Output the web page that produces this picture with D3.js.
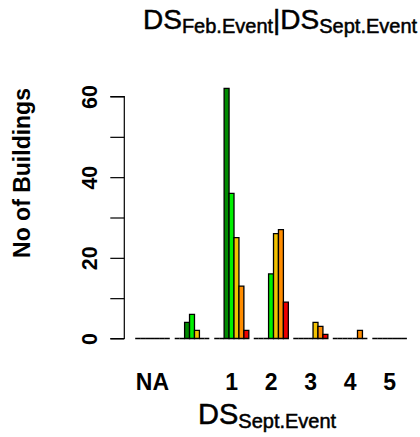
<!DOCTYPE html>
<html>
<head>
<meta charset="utf-8">
<script src="https://cdn.jsdelivr.net/npm/d3@7"></script>
<style>
  html, body { margin: 0; padding: 0; background: #fff; }
  svg { display: block; font-family: "Liberation Sans", Arial, Helvetica, sans-serif; }
</style>
</head>
<body>
<div id="chart"></div>
<script>
// Damage state in the September event (groups along x)
const categories = ["NA", "0", "1", "2", "3", "4", "5"];
const xTickLabels = ["NA", "", "1", "2", "3", "4", "5"];

// Damage state in the February event (bars inside each group)
const seriesNames = ["NA", "0", "1", "2", "3", "4", "5"];
const seriesColors = ["#bebebe", "#ffffff", "#008b00", "#00f000", "#f2c200", "#ff8c00", "#ee0000"];

// Number of buildings per September group, one array per February state
const countsNA = [0, 0, 0, 0, 0, 0, 0];
const counts0  = [0, 0, 0, 0, 0, 0, 0];
const counts1  = [0, 4, 62, 0, 0, 0, 0];
const counts2  = [0, 6, 36, 16, 0, 0, 0];
const counts3  = [0, 2, 25, 26, 4, 0, 0];
const counts4  = [0, 0, 13, 27, 3, 2, 0];
const counts5  = [0, 0, 2, 9, 1, 0, 0];
const seriesValues = [countsNA, counts0, counts1, counts2, counts3, counts4, counts5];

const yTicks = [0, 10, 20, 30, 40, 50, 60];
const yTickLabels = ["0", "", "20", "", "40", "", "60"];

const W = 420, H = 437;
const svg = d3.select("#chart").append("svg")
  .attr("width", W).attr("height", H);

// Each group holds one bar per series plus one empty slot
const nSeries = seriesNames.length;
const slots = categories.length * (nSeries + 1) - 1;
const x = d3.scaleLinear().domain([0, slots]).range([135.2, 406.9]);
const y = d3.scaleLinear().domain([0, 60]).range([338.5, 96.5]);

const bars = [];
categories.forEach((c, gi) => {
  seriesNames.forEach((s, si) => {
    bars.push({ group: gi, series: si, value: seriesValues[si][gi] });
  });
});

svg.append("g").selectAll("path")
  .data(bars)
  .join("path")
  .attr("d", d => {
    const u = d.group * (nSeries + 1) + d.series;
    const x0 = x(u), x1 = x(u + 1), y0 = y(0), y1 = y(d.value);
    return `M${x0},${y0}V${y1}H${x1}V${y0}Z`;
  })
  .attr("fill", d => seriesColors[d.series])
  .attr("stroke", "#000")
  .attr("stroke-width", 1.3);

// Y axis with labels written parallel to the axis
const yAxis = d3.axisLeft(y)
  .tickValues(yTicks)
  .tickSize(14)
  .tickPadding(0)
  .tickFormat((d, i) => yTickLabels[i]);

const gy = svg.append("g")
  .attr("transform", "translate(124.3,0)")
  .call(yAxis);
gy.select(".domain")
  .attr("d", `M-14,${y(60)}H0V${y(0)}H-14`)
  .attr("stroke", "#000").attr("stroke-width", 1.2);
gy.selectAll(".tick line").attr("stroke", "#000").attr("stroke-width", 1.2);
gy.selectAll(".tick text")
  .attr("x", null).attr("dy", null)
  .attr("transform", "translate(-27.5,0) rotate(-90)")
  .attr("text-anchor", "middle")
  .attr("font-size", 21.5)
  .attr("font-weight", "bold")
  .attr("fill", "#000");

// Group labels under the bars
svg.append("g").selectAll("text")
  .data(categories)
  .join("text")
  .attr("x", (d, i) => (x(i * (nSeries + 1)) + x(i * (nSeries + 1) + nSeries)) / 2)
  .attr("y", 390)
  .attr("text-anchor", "middle")
  .attr("font-size", 23)
  .attr("font-weight", "bold")
  .text((d, i) => xTickLabels[i]);

// Axis titles
svg.append("text")
  .attr("transform", "translate(30,173) rotate(-90)")
  .attr("text-anchor", "middle")
  .attr("font-size", 23)
  .attr("font-weight", "bold")
  .text("No of Buildings");

function subscripted(parent, xPos, yPos, parts, big, small) {
  const t = parent.append("text").attr("x", xPos).attr("y", yPos)
    .attr("fill", "#000").attr("stroke", "#000").attr("stroke-width", 0.5);
  parts.forEach(p => {
    t.append("tspan")
      .attr("font-size", p.sub ? small : big)
      .attr("dy", p.dy || 0)
      .text(p.text);
  });
  return t;
}

subscripted(svg, 143, 29, [
  { text: "DS" },
  { text: "Feb.Event", sub: true, dy: 4 },
  { text: "|", dy: -4 },
  { text: "DS" },
  { text: "Sept.Event", sub: true, dy: 4 }
], 28, 20);

subscripted(svg, 198, 424, [
  { text: "DS" },
  { text: "Sept.Event", sub: true, dy: 4 }
], 29, 20);
</script>
</body>
</html>
